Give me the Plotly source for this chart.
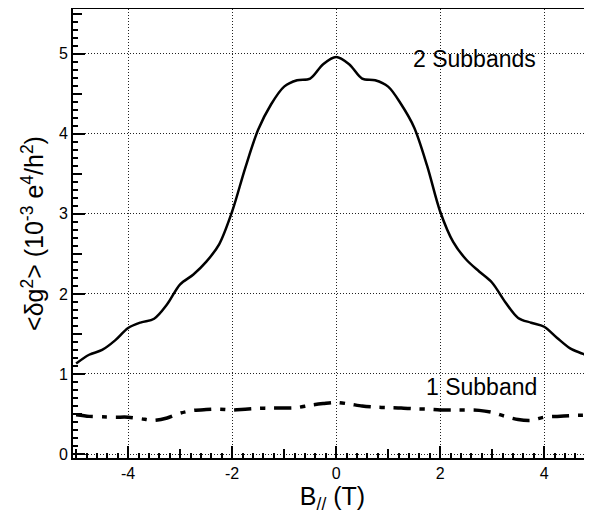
import plotly.graph_objects as go

# Field values (T)
b_field = [-5.0, -4.75, -4.5, -4.25, -4.0, -3.75, -3.5, -3.25, -3.0, -2.75, -2.5,
           -2.25, -2.0, -1.75, -1.5, -1.25, -1.0, -0.75, -0.5, -0.25, 0.0,
           0.25, 0.5, 0.75, 1.0, 1.25, 1.5, 1.75, 2.0, 2.25, 2.5,
           2.75, 3.0, 3.25, 3.5, 3.75, 4.0, 4.25, 4.5, 4.75, 5.0]

# <dg^2> for 2 subbands (10^-3 e^4/h^2)
two_subbands = [1.13, 1.24, 1.30, 1.42, 1.575, 1.645, 1.69, 1.87, 2.12, 2.24, 2.40,
                2.62, 3.03, 3.57, 4.05, 4.37, 4.59, 4.67, 4.69, 4.87, 4.96,
                4.87, 4.69, 4.67, 4.59, 4.37, 4.08, 3.60, 3.03, 2.65, 2.43,
                2.28, 2.14, 1.90, 1.70, 1.64, 1.59, 1.45, 1.32, 1.25, 1.17]

# <dg^2> for 1 subband
one_subband = [0.49, 0.47, 0.465, 0.46, 0.46, 0.44, 0.42, 0.45, 0.51, 0.545, 0.555,
               0.56, 0.55, 0.56, 0.57, 0.575, 0.575, 0.58, 0.61, 0.63, 0.645,
               0.625, 0.60, 0.585, 0.58, 0.575, 0.565, 0.56, 0.55, 0.55, 0.55,
               0.545, 0.52, 0.47, 0.43, 0.42, 0.46, 0.47, 0.48, 0.485, 0.49]

x_major = [-4, -2, 0, 2, 4]
x_major_text = ["-4", "-2", "0", "2", "4"]
y_major = [0, 1, 2, 3, 4, 5]
y_major_text = ["0", "1", "2", "3", "4", "5"]
x_medium = [-5, -3, -1, 1, 3, 5]
y_medium = [0.5, 1.5, 2.5, 3.5, 4.5, 5.5]

FONT = "Liberation Sans, Arial, sans-serif"

fig = go.Figure()
fig.add_trace(go.Scatter(x=b_field, y=two_subbands, mode="lines",
                         line=dict(color="black", width=2.5, shape="spline", smoothing=0.9),
                         showlegend=False, hoverinfo="skip"))
fig.add_trace(go.Scatter(x=b_field, y=one_subband, mode="lines",
                         line=dict(color="black", width=3.5, shape="spline", smoothing=0.8,
                                   dash="17px,9px,5px,9px"),
                         showlegend=False, hoverinfo="skip"))
# helper trace so the overlay axes (medium ticks) are drawn
fig.add_trace(go.Scatter(x=[None], y=[None], xaxis="x2", yaxis="y2",
                         showlegend=False, hoverinfo="skip"))

fig.update_layout(
    width=584, height=512,
    margin=dict(l=65, r=0, t=1, b=62, autoexpand=False),
    paper_bgcolor="white", plot_bgcolor="white",
    font=dict(family=FONT, color="black", size=16),
    xaxis=dict(
        range=[-5.06, 4.92], tickvals=x_major, ticktext=x_major_text,
        automargin=False,
        ticks="inside", ticklen=12, tickwidth=1.5, tickcolor="black",
        showline=True, linewidth=2, linecolor="black", mirror=True,
        showgrid=True, gridcolor="#222222", gridwidth=1, griddash="1px,2px",
        zeroline=False,
        minor=dict(dtick=0.2, tick0=0, ticks="inside", ticklen=5, tickwidth=1.5,
                   tickcolor="black", showgrid=False),
        tickfont=dict(size=16),
        title=dict(text="B<sub>//</sub> (T)", font=dict(size=25), standoff=2),
    ),
    yaxis=dict(
        range=[-0.05, 5.56], tickvals=y_major, ticktext=y_major_text,
        automargin=False,
        ticks="inside", ticklen=12, tickwidth=1.5, tickcolor="black",
        showline=True, linewidth=2, linecolor="black",
        showgrid=True, gridcolor="#222222", gridwidth=1, griddash="1px,2px",
        zeroline=False,
        minor=dict(dtick=0.1, tick0=0, ticks="inside", ticklen=5, tickwidth=1.5,
                   tickcolor="black", showgrid=False),
        tickfont=dict(size=16),
        title=dict(text="&lt;δg<sup>2</sup>&gt; (10<sup>-3</sup> e<sup>4</sup>/h<sup>2</sup>)",
                   font=dict(size=25), standoff=8),
    ),
    xaxis2=dict(
        overlaying="x", matches="x", anchor="y", side="bottom", automargin=False,
        tickvals=x_medium, ticks="inside", ticklen=9, tickwidth=1.5, tickcolor="black",
        showticklabels=False, showgrid=False, showline=False, zeroline=False,
    ),
    yaxis2=dict(
        overlaying="y", matches="y", anchor="x", side="left", automargin=False,
        tickvals=y_medium, ticks="inside", ticklen=9, tickwidth=1.5, tickcolor="black",
        showticklabels=False, showgrid=False, showline=False, zeroline=False,
    ),
    annotations=[
        dict(x=2.67, y=4.93, xref="x", yref="y", text="2 Subbands", showarrow=False,
             font=dict(size=23, family=FONT, color="black")),
        dict(x=2.8, y=0.84, xref="x", yref="y", text="1 Subband", showarrow=False,
             font=dict(size=23, family=FONT, color="black")),
    ],
)

fig.write_html("out.html")
